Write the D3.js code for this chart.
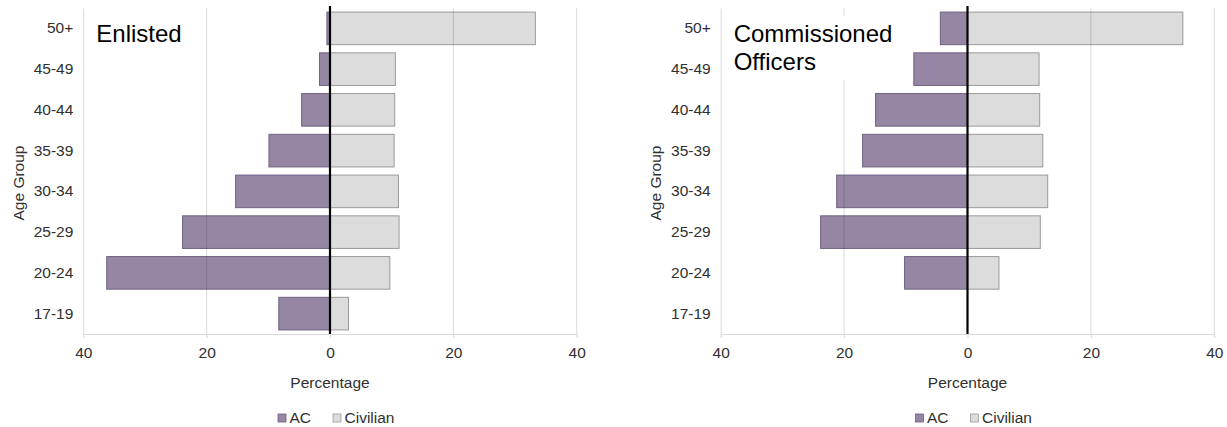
<!DOCTYPE html>
<html>
<head>
<meta charset="utf-8">
<script src="https://cdnjs.cloudflare.com/ajax/libs/d3/7.8.5/d3.min.js"></script>
<style>
    body { margin: 0; background: #fff; }
    svg text { font-family: "Liberation Sans", Arial, sans-serif; }
</style>
</head>
<body>
<div id="chart"></div>
<script>
// data, top group first
var ageGroups = ["50+", "45-49", "40-44", "35-39", "30-34", "25-29", "20-24", "17-19"];
var enlistedAC = [0.5, 1.7, 4.6, 9.9, 15.3, 23.9, 36.2, 8.3];
var enlistedCivilian = [33.3, 10.6, 10.5, 10.4, 11.1, 11.2, 9.7, 3.0];
var officerAC = [4.4, 8.7, 14.9, 17.0, 21.2, 23.8, 10.2, 0];
var officerCivilian = [34.9, 11.6, 11.7, 12.2, 13.0, 11.8, 5.1, 0];
var xTicks = [-40, -20, 0, 20, 40];
var seriesNames = ["AC", "Civilian"];

var acFill = "#9586a4",
    acStroke = "#6e6280",
    civFill = "#dcdcdc",
    civStroke = "#9a9a9a",
    textColor = "#303030";

var svg = d3.select("#chart")
    .append("svg")
    .attr("width", 1227)
    .attr("height", 427);

function drawPanel(p) {
    var x = d3.scaleLinear().domain([-40, 40]).range([p.left, p.right]);
    var y = d3.scaleBand().domain(ageGroups).range([8, 334])
        .paddingInner(0.2).paddingOuter(0.1);
    var g = svg.append("g");

    var rows = ageGroups.map(function (a, i) {
        return { age: a, ac: p.ac[i], civ: p.civ[i] };
    });

    // AC bars go left of zero
    g.selectAll(".ac")
        .data(rows)
        .enter().append("rect")
        .attr("x", function (d) { return x(-d.ac); })
        .attr("y", function (d) { return y(d.age); })
        .attr("width", function (d) { return x(0) - x(-d.ac); })
        .attr("height", y.bandwidth())
        .attr("fill", acFill)
        .attr("stroke", acStroke)
        .attr("stroke-width", d => d.ac > 0 ? 1 : 0);

    g.selectAll(".civ")
        .data(rows)
        .enter().append("rect")
        .attr("x", x(0))
        .attr("y", function (d) { return y(d.age); })
        .attr("width", function (d) { return x(d.civ) - x(0); })
        .attr("height", y.bandwidth())
        .attr("fill", civFill)
        .attr("stroke", civStroke)
        .attr("stroke-width", d => d.civ > 0 ? 1 : 0);

    // gridlines (drawn over the bars, faint)
    g.selectAll(".grid")
        .data(xTicks.filter(function (t) { return t !== -40 && t !== 0; }))
        .enter().append("line")
        .attr("x1", function (d) { return x(d); })
        .attr("x2", function (d) { return x(d); })
        .attr("y1", 8)
        .attr("y2", 334)
        .attr("stroke", "#000")
        .attr("stroke-opacity", 0.15);

    // x axis
    var xAxis = g.append("g")
        .attr("transform", "translate(0,334)")
        .call(d3.axisBottom(x)
            .tickValues(xTicks)
            .tickSize(4)
            .tickSizeOuter(0)
            .tickPadding(9)
            .tickFormat(function (d) { return Math.abs(d); }));
    xAxis.select(".domain").attr("stroke", "#d9d9d9");
    xAxis.selectAll(".tick line").attr("stroke", "#d9d9d9");
    xAxis.selectAll("text").attr("fill", textColor).style("font-size", "15.5px");

    // y axis
    var yAxis = g.append("g")
        .attr("transform", "translate(" + p.left + ",0)")
        .call(d3.axisLeft(y).tickSize(0).tickPadding(10));
    yAxis.select(".domain").attr("stroke", "#d9d9d9");
    yAxis.selectAll("text").attr("fill", textColor).style("font-size", "15.5px");

    // title, on a white box
    if (p.box) {
        g.append("rect")
            .attr("x", p.left + 10)
            .attr("y", 16)
            .attr("width", p.box)
            .attr("height", 64)
            .attr("fill", "#fff");
    }
    g.selectAll(".title")
        .data(p.title)
        .enter().append("text")
        .attr("x", p.left + 13)
        .attr("y", function (d, i) { return 42 + i * 28; })
        .style("font-size", "24px")
        .attr("fill", "#000")
        .text(function (d) { return d; });

    // zero line
    g.append("line")
        .attr("x1", x(0))
        .attr("x2", x(0))
        .attr("y1", 6)
        .attr("y2", 334)
        .attr("stroke", "#000")
        .attr("stroke-width", 2.2);

    g.append("text")
        .attr("text-anchor", "middle")
        .attr("x", x(0))
        .attr("y", 388)
        .attr("fill", textColor)
        .style("font-size", "15.5px")
        .text("Percentage");

    g.append("text")
        .attr("text-anchor", "middle")
        .attr("transform", "translate(" + (p.left - 59.5) + ",183)rotate(-90)")
        .attr("fill", textColor)
        .style("font-size", "15.5px")
        .text("Age Group");

    // legend
    var leg = g.selectAll(".legend")
        .data(seriesNames)
        .enter().append("g")
        .attr("transform", function (d, i) {
            return "translate(" + (x(0) + (i === 0 ? -52 : 3)) + ",414)";
        });
    leg.append("rect")
        .attr("width", 8)
        .attr("height", 8)
        .attr("fill", function (d, i) { return i === 0 ? acFill : civFill; })
        .attr("stroke", function (d, i) { return i === 0 ? acStroke : civStroke; })
        .attr("stroke-width", 0.8);
    leg.append("text")
        .attr("x", 11.5)
        .attr("y", 8.5)
        .attr("fill", textColor)
        .style("font-size", "15.5px")
        .text(function (d) { return d; });
}

drawPanel({ left: 83.3, right: 576.7, ac: enlistedAC, civ: enlistedCivilian, title: ["Enlisted"], box: 0 });
drawPanel({ left: 720.7, right: 1214.3, ac: officerAC, civ: officerCivilian, title: ["Commissioned", "Officers"], box: 172 });
</script>
</body>
</html>
